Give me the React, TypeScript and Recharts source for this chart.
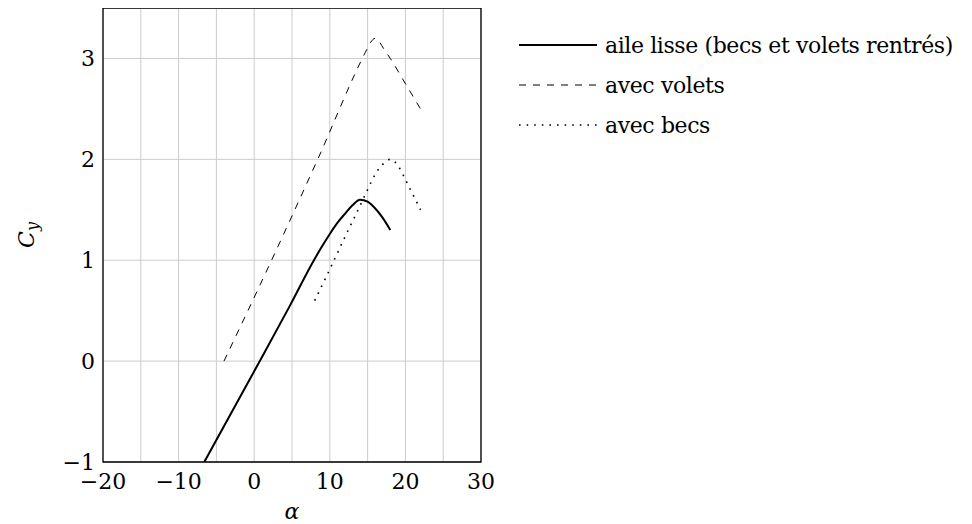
import {
  LineChart,
  Line,
  XAxis,
  YAxis,
  CartesianGrid,
  ReferenceArea,
  Legend,
  Label,
} from "recharts";

// Cy vs alpha
const lisseAlpha = [-6.6, 0, 4.8, 7.9, 9, 10, 11, 12, 13, 14, 15, 15.8, 17, 18];
const lisseCy = [-1, -0.1, 0.56, 1.0, 1.14, 1.26, 1.37, 1.46, 1.545, 1.6, 1.58, 1.53, 1.42, 1.3];

const voletsAlpha = [-4, 2.3, 8.4, 14.7, 15.4, 16, 16.5, 17.1, 18, 20, 22];
const voletsCy = [0, 1, 2, 3.06, 3.16, 3.2, 3.17, 3.1, 3.0, 2.75, 2.5];

const becsAlpha = [8, 10, 12, 14, 15, 16, 17, 18, 19, 20, 21, 22];
const becsCy = [0.6, 0.91, 1.23, 1.54, 1.7, 1.85, 1.95, 2.0, 1.94, 1.8, 1.65, 1.5];

const xTicks = [-20, -15, -10, -5, 0, 5, 10, 15, 20, 25, 30];
const yTicks = [-1, 0, 1, 2, 3];

const FONT = "'DejaVu Serif', 'Liberation Serif', serif";
const FS = 22;

const toPoints = (xs: number[], ys: number[]) => xs.map((a, i) => ({ alpha: a, cy: ys[i] }));

const series = [
  { name: "aile lisse (becs et volets rentrés)", data: toPoints(lisseAlpha, lisseCy), width: 2, dash: undefined as string | undefined },
  { name: "avec volets", data: toPoints(voletsAlpha, voletsCy), width: 1, dash: "7 7" },
  { name: "avec becs", data: toPoints(becsAlpha, becsCy), width: 1.6, dash: "1.6 6" },
];

const fmt = (v: number) => String(v).replace("-", "\u2212");

function LegendBox() {
  return (
    <div style={{ fontFamily: FONT, fontSize: FS, color: "#000", letterSpacing: -0.4 }}>
      {series.map((s) => (
        <div key={s.name} style={{ display: "flex", alignItems: "center", height: 40, whiteSpace: "nowrap" }}>
          <svg width={84} height={10} style={{ marginRight: 2 }}>
            <line x1={0} y1={5} x2={78} y2={5} stroke="#000" strokeWidth={s.width} strokeDasharray={s.dash} />
          </svg>
          <span>{s.name}</span>
        </div>
      ))}
    </div>
  );
}

function CyLabel(props: any) {
  const vb = props.viewBox || {};
  const cx = vb.x + 18;
  const cy = vb.y + vb.height / 2;
  return (
    <text
      x={cx}
      y={cy}
      transform={`rotate(-90, ${cx}, ${cy})`}
      textAnchor="middle"
      dominantBaseline="central"
      fontFamily={FONT}
      fontStyle="italic"
      fontSize={FS}
      fill="#000"
    >
      <tspan>C</tspan>
      <tspan dy={6} fontSize={16}>y</tspan>
    </text>
  );
}

function AlphaLabel(props: any) {
  const vb = props.viewBox || {};
  return (
    <text
      x={vb.x + vb.width / 2}
      y={vb.y + 57}
      textAnchor="middle"
      fontFamily={FONT}
      fontStyle="italic"
      fontSize={FS}
      fill="#000"
    >
      α
    </text>
  );
}

export default function App() {
  return (
    <div style={{ width: 964, height: 516, fontFamily: FONT }}>
      <LineChart width={964} height={516} margin={{ top: 0, right: 491, bottom: 0, left: 0 }}>
        <CartesianGrid stroke="#cccccc" strokeWidth={1} />
        <XAxis
          type="number"
          dataKey="alpha"
          domain={[-20, 30]}
          ticks={xTicks}
          interval={0}
          allowDataOverflow
          height={62}
          tickLine={false}
          axisLine={false}
          tickSize={0}
          tickMargin={11}
          tick={{ fontSize: FS, fill: "#000", fontFamily: FONT }}
          tickFormatter={(v: number) => (v % 10 === 0 ? fmt(v) : "")}
        >
          <Label content={<AlphaLabel />} />
        </XAxis>
        <YAxis
          type="number"
          dataKey="cy"
          domain={[-1, 3.5]}
          ticks={yTicks}
          interval={0}
          allowDataOverflow
          width={95}
          tickLine={false}
          axisLine={false}
          tickSize={0}
          tickMargin={8}
          tick={{ fontSize: FS, fill: "#000", fontFamily: FONT }}
          tickFormatter={fmt}
        >
          <Label content={<CyLabel />} />
        </YAxis>
        {series.map((s) => (
          <Line
            key={s.name}
            name={s.name}
            data={s.data}
            dataKey="cy"
            type="monotone"
            stroke="#000"
            strokeWidth={s.width}
            strokeDasharray={s.dash}
            dot={false}
            activeDot={false}
            isAnimationActive={false}
          />
        ))}
        <ReferenceArea x1={-20} x2={30} y1={-1} y2={3.5} fill="none" stroke="#000" strokeWidth={1.3} />
        <Legend
          layout="vertical"
          align="center"
          verticalAlign="middle"
          content={<LegendBox />}
          wrapperStyle={{ left: 511, top: 17, width: 460, height: 120 }}
        />
      </LineChart>
    </div>
  );
}
